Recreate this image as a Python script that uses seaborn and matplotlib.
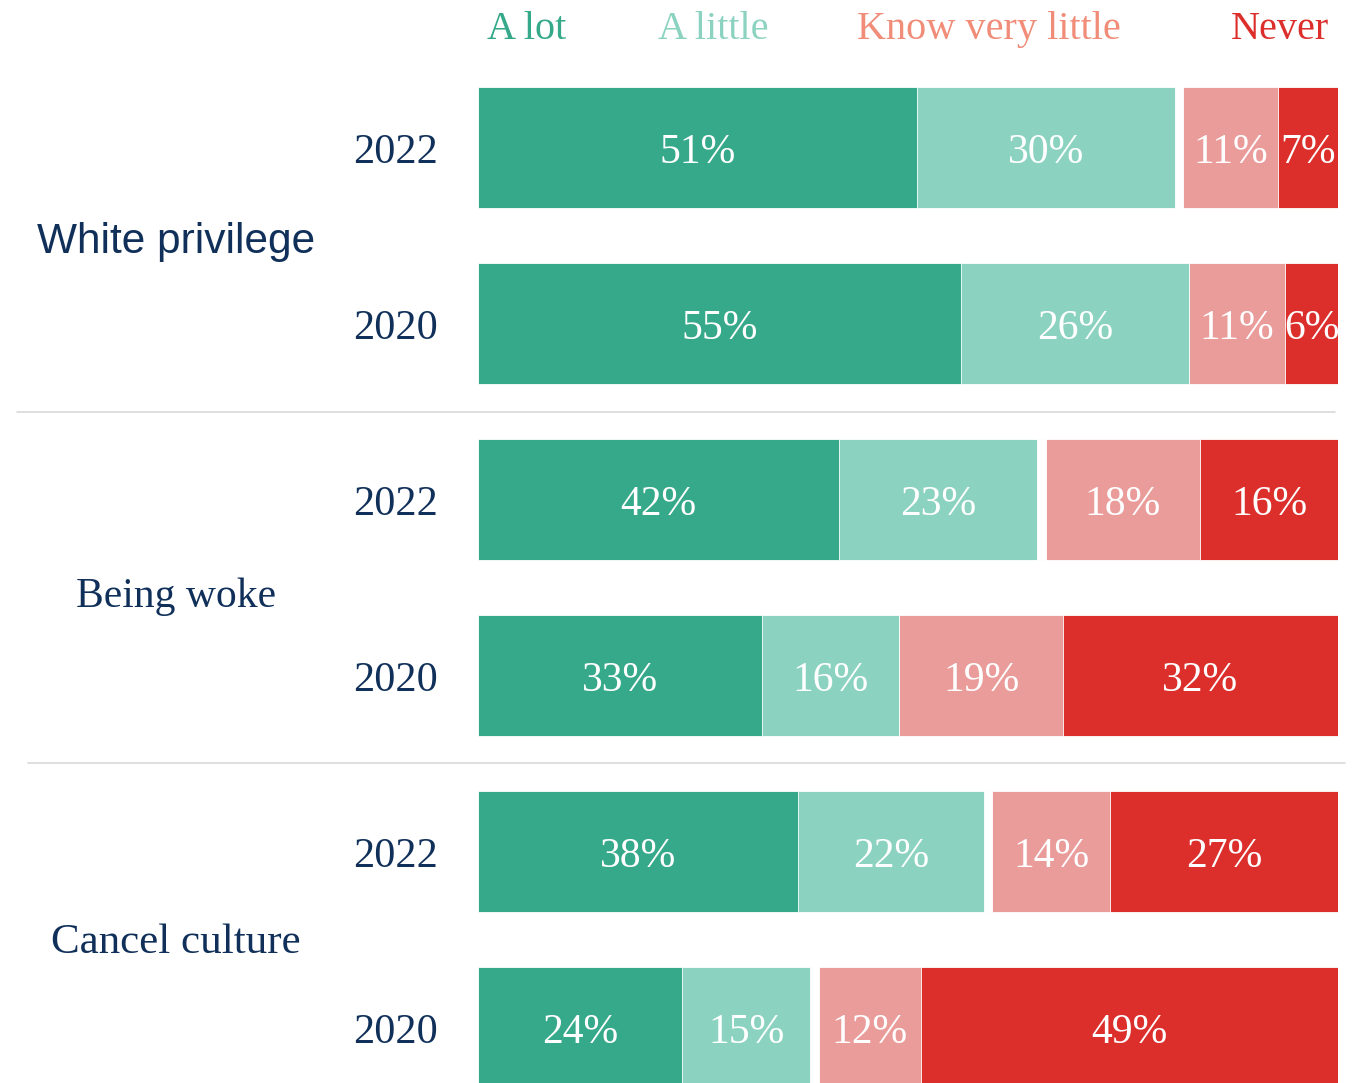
import numpy as np
import pandas as pd
import matplotlib
matplotlib.use("Agg")
import matplotlib.pyplot as plt
from matplotlib.lines import Line2D
import seaborn as sns

# Survey data: how much people have heard about each term
topics = ["White privilege", "White privilege", "Being woke", "Being woke",
          "Cancel culture", "Cancel culture"]
years = ["2022", "2020", "2022", "2020", "2022", "2020"]
a_lot = [51, 55, 42, 33, 38, 24]
a_little = [30, 26, 23, 16, 22, 15]
gap = [1, 0, 1, 0, 1, 1]          # blank spacer between the two halves
know_very_little = [11, 11, 18, 19, 14, 12]
never = [7, 6, 16, 32, 27, 49]

categories = ["A lot", "A little", "Know very little", "Never"]
bar_colors = ["#35A98A", "#8BD3C0", "#EA9C9B", "#DC2F2B"]
legend_colors = ["#35A98A", "#8BD3C0", "#F08C78", "#DC2F2B"]
navy = "#10305A"

sns.set_theme(style="white")
plt.rcParams["font.family"] = ["Liberation Serif", "DejaVu Serif"]

df = pd.DataFrame({
    "topic": topics, "year": years, "A lot": a_lot, "A little": a_little,
    "gap": gap, "Know very little": know_very_little, "Never": never,
})
df["row"] = df["topic"] + " " + df["year"]
parts = ["A lot", "A little", "gap", "Know very little", "Never"]
totals = df[parts].sum(axis=1)
shares = df[parts].div(totals, axis=0)
cum = shares.cumsum(axis=1)
order = list(df["row"])

W, H = 1355, 1083
fig = plt.figure(figsize=(W / 100, H / 100), dpi=100)
pitch, bar_h = 176.0, 121.0
first_center = 87 + bar_h / 2
top_px = first_center - pitch / 2
bot_px = first_center + 5 * pitch + pitch / 2
ax = fig.add_axes([478 / W, 1 - bot_px / H, (1338 - 478) / W, (bot_px - top_px) / H])


def px_to_y(py):
    """Vertical pixel position (from the top) to data units."""
    return (py - first_center) / pitch


# Layered cumulative bars, drawn from the full length down to the first segment
layer_colors = {"A lot": bar_colors[0], "A little": bar_colors[1], "gap": "white",
                "Know very little": bar_colors[2], "Never": bar_colors[3]}
for part in reversed(parts):
    sns.barplot(x=cum[part].values, y=df["row"], order=order, orient="h",
                color=layer_colors[part], saturation=1, width=bar_h / pitch,
                edgecolor="white", linewidth=0.6, errorbar=None, ax=ax)

ax.set_xlim(0, 1)
ax.set_ylim(5.5, -0.5)
ax.set_xlabel("")
ax.set_ylabel("")
ax.set_xticks([])
ax.set_yticks([])
for s in ax.spines.values():
    s.set_visible(False)
ax.patch.set_alpha(0)

# Value labels centred in each segment (baseline sits just below bar centre)
base_off = 15.5 / pitch
label_parts = ["A lot", "A little", "Know very little", "Never"]
for i in range(len(df)):
    for part in label_parts:
        right = cum.loc[i, part]
        left = right - shares.loc[i, part]
        ax.text((left + right) / 2, i + base_off, f"{df.loc[i, part]}%", ha="center",
                va="baseline", color="white", fontsize=30, clip_on=False)
    # year labels
    ax.text(-40 / 860, i + base_off, df.loc[i, "year"], ha="right", va="baseline",
            color=navy, fontsize=30.5)

# Topic labels
x_topic = (176 - 478) / 860
ax.text(x_topic, px_to_y(253), "White privilege", ha="center", va="baseline",
        color=navy, fontsize=30.5, family=["Liberation Sans", "DejaVu Sans"])
ax.text(x_topic, px_to_y(607), "Being woke", ha="center", va="baseline",
        color=navy, fontsize=30)
ax.text(x_topic, px_to_y(953), "Cancel culture", ha="center", va="baseline",
        color=navy, fontsize=31)

# Category header
for name, col, xc in zip(categories, legend_colors, [527, 713, 989, 1280]):
    fig.text(xc / W, 1 - 39 / H, name, ha="center", va="baseline", color=col,
             fontsize=29)

# Separators between topics
for y, x0, x1 in [(412, 17, 1335), (763, 28, 1345)]:
    fig.add_artist(Line2D([x0 / W, x1 / W], [1 - y / H, 1 - y / H],
                          transform=fig.transFigure, color="#D9D9D9", linewidth=1.2))

fig.savefig("out.png", dpi=100)
